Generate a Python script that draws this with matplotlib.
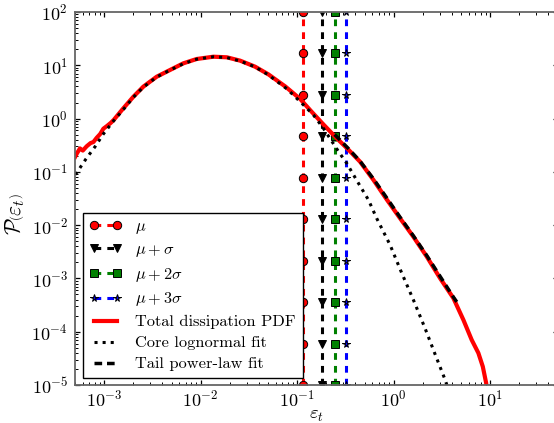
import numpy as np
import matplotlib
matplotlib.use("Agg")
import matplotlib.pyplot as plt

plt.rcParams.update({
    "font.family": "serif",
    "font.serif": ["cmr10"],
    "mathtext.fontset": "cm",
    "axes.formatter.use_mathtext": True,
})

# values, stored as decade exponents (log10)
pdf_log_eps = [-3.30, -3.283, -3.25, -3.22, -3.18, -3.14, -3.11, -3.076, -3.04, -3.007,
               -2.97, -2.93, -2.90, -2.80, -2.696, -2.593, -2.454, -2.316, -2.178, -2.04,
               -1.867, -1.728, -1.59, -1.435, -1.297, -1.12, -0.969, -0.85, -0.727, -0.60,
               -0.475, -0.347, -0.209, -0.07, 0.067, 0.205, 0.344, 0.482, 0.62, 0.724,
               0.81, 0.879, 0.925, 0.96, 0.975]
pdf_log_p = [-0.72, -0.66, -0.56, -0.60, -0.52, -0.46, -0.44, -0.36, -0.29, -0.19,
             -0.14, -0.08, -0.026, 0.193, 0.41, 0.599, 0.786, 0.912, 1.037, 1.118,
             1.161, 1.15, 1.087, 0.974, 0.83, 0.60, 0.37, 0.13, -0.11, -0.35,
             -0.57, -0.81, -1.15, -1.52, -1.87, -2.216, -2.59, -2.996, -3.37, -3.779,
             -4.154, -4.40, -4.655, -4.966, -5.3]

core_log_eps = [-3.30, -3.276, -3.187, -3.093, -3.007, -2.90, -2.80, -2.696, -2.593, -2.454,
                -2.316, -2.178, -2.04, -1.867, -1.728, -1.59, -1.435, -1.297, -1.10, -0.93,
                -0.83, -0.728, -0.57, -0.485, -0.365, -0.26, -0.175, -0.036, 0.085, 0.205,
                0.326, 0.44, 0.534, 0.58]
core_log_p = [-1.05, -0.996, -0.757, -0.527, -0.289, -0.04, 0.17, 0.40, 0.59, 0.78,
              0.91, 1.03, 1.115, 1.16, 1.145, 1.08, 0.97, 0.82, 0.55, 0.25,
              0.068, -0.18, -0.62, -0.84, -1.21, -1.527, -1.871, -2.371, -2.90, -3.40,
              -3.934, -4.467, -4.90, -5.15]

tail_log_eps = [-0.61, -0.475, -0.347, -0.209, -0.07, 0.067, 0.205, 0.344, 0.482, 0.62, 0.655]
tail_log_p = [-0.30, -0.55, -0.80, -1.13, -1.49, -1.85, -2.20, -2.57, -2.96, -3.35, -3.44]

# thresholds mu, mu+sigma, mu+2sigma, mu+3sigma
thresholds = [0.115, 0.182, 0.249, 0.318]
threshold_labels = [r"$\mu$", r"$\mu+\sigma$", r"$\mu+2\sigma$", r"$\mu+3\sigma$"]
marker_p = [1e-5, 5.99e-5, 3.59e-4, 2.15e-3, 1.29e-2, 7.74e-2, 0.464, 2.78, 16.7, 100.0]

colors = ["red", "black", "green", "blue"]
markers = ["o", "v", "s", "*"]
marker_sizes = [6, 6, 6, 5.5]

fig = plt.figure(figsize=(5.54, 4.23), dpi=100)
ax = fig.add_axes([75 / 554, 38 / 423, 482.5 / 554, 373 / 423])

for t, lab, c, m, ms in zip(thresholds, threshold_labels, colors, markers, marker_sizes):
    ax.plot([t] * len(marker_p), marker_p, color=c, ls="--", dashes=(2.2, 2.0), lw=2.2,
            marker=m, ms=ms, mfc=c, mec="k", mew=0.7, label=lab)

ax.plot(10 ** np.array(pdf_log_eps), 10 ** np.array(pdf_log_p), color="red", lw=3,
        label="Total dissipation PDF")
ax.plot(10 ** np.array(core_log_eps), 10 ** np.array(core_log_p), color="black", ls=":",
        lw=2.2, label="Core lognormal fit")
ax.plot(10 ** np.array(tail_log_eps), 10 ** np.array(tail_log_p), color="black", ls="--",
        dashes=(2.2, 1.4), lw=2.5, label="Tail power-law fit")

ax.set_xscale("log")
ax.set_yscale("log")
ax.set_xlim(5e-4, 50)
ax.set_ylim(1e-5, 1e2)

for s in ax.spines.values():
    s.set_color("0.4")
    s.set_linewidth(1.3)
ax.tick_params(which="both", direction="in", top=True, right=True, labelsize=13, color="k")
ax.tick_params(which="major", length=3.5, width=0.9)
ax.tick_params(which="minor", length=2, width=0.7)
ax.tick_params(axis="x", which="major", pad=3)
ax.tick_params(axis="y", which="major", pad=5)

ax.set_xlabel(r"$\varepsilon_t$", fontsize=13.5, labelpad=-3)
ax.set_ylabel(r"$\mathcal{P}\left(\varepsilon_t\right)$", fontsize=15.5)
ax.yaxis.set_label_coords(-0.1, 0.46)

leg = ax.legend(loc="lower left", bbox_to_anchor=(0.0166, 0.019), borderaxespad=0,
                fontsize=11.8, numpoints=2, handlelength=2.0, fancybox=False,
                framealpha=1, edgecolor="k", labelspacing=0.4)
leg.get_frame().set_linewidth(1.0)

fig.savefig("out.png", dpi=100)
